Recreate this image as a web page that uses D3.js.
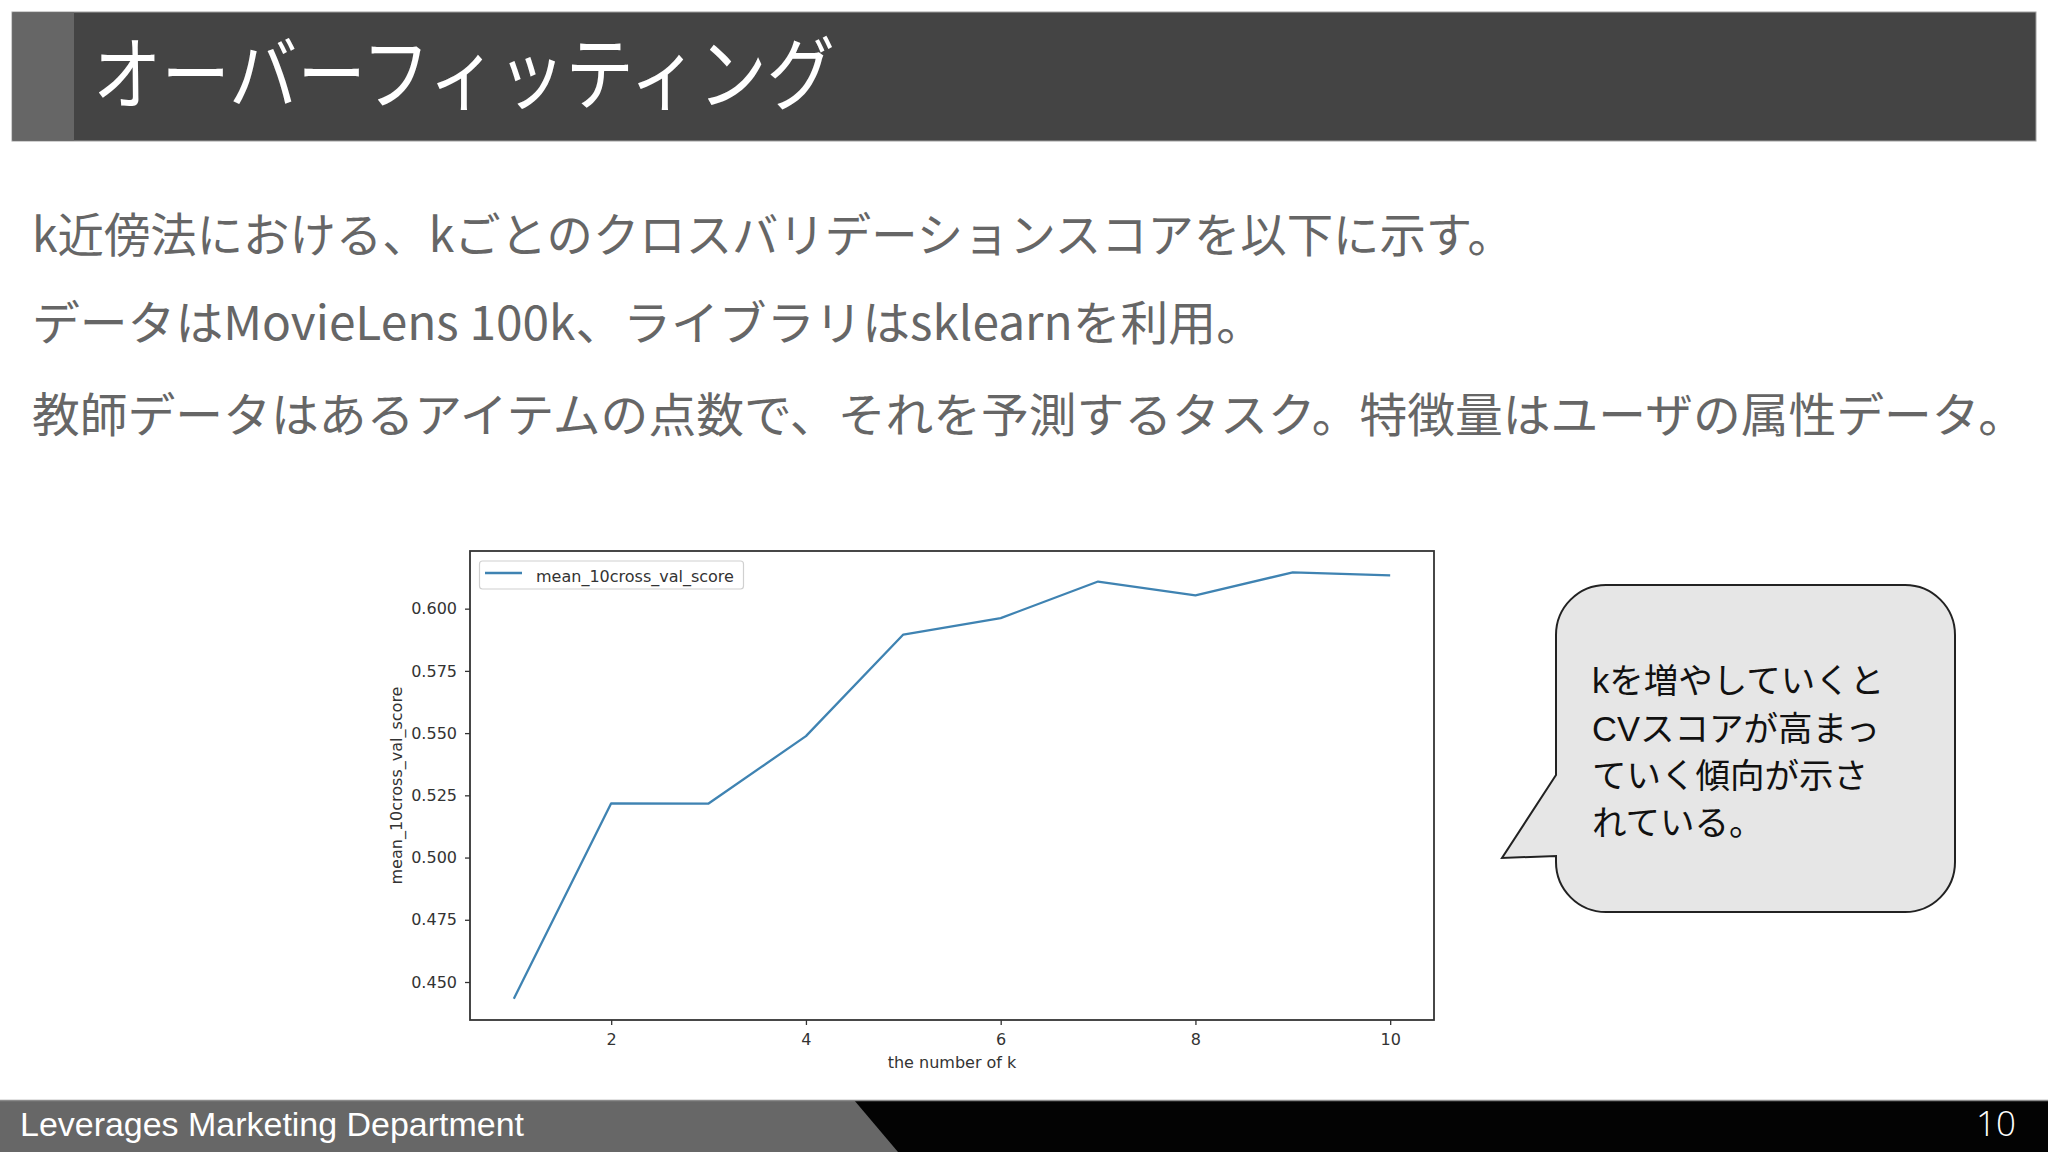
<!DOCTYPE html>
<html>
<head>
<meta charset="utf-8">
<script src="https://cdn.jsdelivr.net/npm/d3@7"></script>
<style>
  html, body { margin: 0; padding: 0; background: #ffffff; }
  svg { display: block; }
</style>
</head>
<body>
<svg id="slide" width="2048" height="1152"></svg>
<script>
// ---- data ----
const kValues = [1, 2, 3, 4, 5, 6, 7, 8, 9, 10];
const cvScores = [0.4433, 0.5218, 0.5217, 0.5488, 0.5896, 0.5962, 0.6109, 0.6053, 0.6146, 0.6134];
const xTicks = [2, 4, 6, 8, 10];
const yTicks = [0.450, 0.475, 0.500, 0.525, 0.550, 0.575, 0.600];
const seriesName = "mean_10cross_val_score";
const xLabel = "the number of k";
const yLabel = "mean_10cross_val_score";
const title = "オーバーフィッティング";
const bodyLines = [
  "k近傍法における、kごとのクロスバリデーションスコアを以下に示す。",
  "データはMovieLens 100k、ライブラリはsklearnを利用。",
  "教師データはあるアイテムの点数で、それを予測するタスク。特徴量はユーザの属性データ。"
];
const bubbleLines = ["kを増やしていくと", "CVスコアが高まっ", "ていく傾向が示さ", "れている。"];
const footerText = "Leverages Marketing Department";
const pageNumber = "10";

const svg = d3.select("#slide");
svg.append("rect").attr("width", 2048).attr("height", 1152).attr("fill", "#ffffff");

// ---- header ----
svg.append("rect").attr("x", 12).attr("y", 12).attr("width", 2024).attr("height", 129)
  .attr("fill", "#444444").attr("stroke", "#a0a0a0").attr("stroke-width", 1);
svg.append("rect").attr("x", 12.5).attr("y", 12.5).attr("width", 61.5).attr("height", 128)
  .attr("fill", "#666666");
svg.append("text").attr("x", 93).attr("y", 103)
  .attr("font-family", "'Noto Sans CJK JP', sans-serif").attr("font-size", 80)
  .attr("fill", "#ffffff").attr("textLength", 742).attr("lengthAdjust", "spacingAndGlyphs")
  .text(title);

// ---- body text ----
const bodyBase = [252, 340, 432];
const bodyLen = [1482, 1232, 1994];
bodyLines.forEach((t, i) => {
  svg.append("text").attr("x", 32).attr("y", bodyBase[i])
    .attr("font-family", "'Noto Sans CJK JP', sans-serif").attr("font-size", 47)
    .attr("fill", "#666666").attr("textLength", bodyLen[i]).attr("lengthAdjust", "spacingAndGlyphs")
    .text(t);
});

// ---- chart ----
const ax = { left: 470, right: 1434, top: 551, bottom: 1020 };
const dMin = d3.min(cvScores), dMax = d3.max(cvScores);
const yPad = (dMax - dMin) * 0.05;
const xPad = (d3.max(kValues) - d3.min(kValues)) * 0.05;
const x = d3.scaleLinear().domain([d3.min(kValues) - xPad, d3.max(kValues) + xPad]).range([ax.left, ax.right]);
const y = d3.scaleLinear().domain([dMin - yPad, dMax + yPad]).range([ax.bottom, ax.top]);

const chart = svg.append("g");
chart.append("rect").attr("x", ax.left).attr("y", ax.top)
  .attr("width", ax.right - ax.left).attr("height", ax.bottom - ax.top)
  .attr("fill", "#ffffff");

const lineColor = "#3f83b2";
chart.append("path")
  .datum(kValues.map((k, i) => [k, cvScores[i]]))
  .attr("fill", "none").attr("stroke", lineColor).attr("stroke-width", 2.3)
  .attr("stroke-linejoin", "round")
  .attr("d", d3.line().x(d => x(d[0])).y(d => y(d[1])));

const xAxis = chart.append("g").attr("transform", `translate(0,${ax.bottom})`)
  .call(d3.axisBottom(x).tickValues(xTicks).tickSize(5).tickPadding(8.5).tickFormat(d3.format("d")));
const yAxis = chart.append("g").attr("transform", `translate(${ax.left},0)`)
  .call(d3.axisLeft(y).tickValues(yTicks).tickSize(5).tickPadding(8).tickFormat(d3.format(".3f")));
[xAxis, yAxis].forEach(g => {
  g.select(".domain").remove();
  g.selectAll(".tick line").attr("stroke", "#333333").attr("stroke-width", 1.3);
  g.selectAll(".tick text").attr("fill", "#333333")
    .attr("font-family", "'DejaVu Sans', sans-serif").attr("font-size", 16);
});

chart.append("rect").attr("x", ax.left).attr("y", ax.top)
  .attr("width", ax.right - ax.left).attr("height", ax.bottom - ax.top)
  .attr("fill", "none").attr("stroke", "#333333").attr("stroke-width", 1.8);

chart.append("text").attr("x", (ax.left + ax.right) / 2).attr("y", 1068)
  .attr("text-anchor", "middle").attr("fill", "#333333")
  .attr("font-family", "'DejaVu Sans', sans-serif").attr("font-size", 16).text(xLabel);
chart.append("text")
  .attr("transform", `translate(402,${(ax.top + ax.bottom) / 2}) rotate(-90)`)
  .attr("text-anchor", "middle").attr("fill", "#333333")
  .attr("font-family", "'DejaVu Sans', sans-serif").attr("font-size", 16).text(yLabel);

// legend
const lg = chart.append("g");
lg.append("rect").attr("x", 479.5).attr("y", 561).attr("width", 264).attr("height", 28).attr("rx", 3)
  .attr("fill", "#ffffff").attr("stroke", "#d0d0d0").attr("stroke-width", 1.2);
lg.append("line").attr("x1", 485).attr("x2", 522).attr("y1", 573).attr("y2", 573)
  .attr("stroke", lineColor).attr("stroke-width", 2.3);
lg.append("text").attr("x", 536).attr("y", 581.5).attr("fill", "#333333")
  .attr("font-family", "'DejaVu Sans', sans-serif").attr("font-size", 16).text(seriesName);

// ---- speech bubble ----
const b = { x0: 1556, x1: 1955, y0: 585, y1: 912, r: 50 };
const bubblePath = `M${b.x0 + b.r},${b.y0} H${b.x1 - b.r} A${b.r},${b.r} 0 0 1 ${b.x1},${b.y0 + b.r}
  V${b.y1 - b.r} A${b.r},${b.r} 0 0 1 ${b.x1 - b.r},${b.y1} H${b.x0 + b.r}
  A${b.r},${b.r} 0 0 1 ${b.x0},${b.y1 - b.r} V856 L1502,858 L${b.x0},775 V${b.y0 + b.r}
  A${b.r},${b.r} 0 0 1 ${b.x0 + b.r},${b.y0} Z`;
svg.append("path").attr("d", bubblePath).attr("fill", "#e6e6e6")
  .attr("stroke", "#222222").attr("stroke-width", 2).attr("stroke-linejoin", "miter");
const bubbleBase = [693, 741, 788, 835];
bubbleLines.forEach((t, i) => {
  svg.append("text").attr("x", 1592).attr("y", bubbleBase[i])
    .attr("font-family", "'Liberation Sans', 'Noto Sans CJK JP', sans-serif").attr("font-size", 34.5)
    .attr("fill", "#111111").text(t);
});

// ---- footer ----
svg.append("rect").attr("x", 0).attr("y", 1100).attr("width", 2048).attr("height", 52).attr("fill", "#030303");
svg.append("polygon").attr("points", "0,1100 854,1100 898,1152 0,1152").attr("fill", "#676767");
svg.append("line").attr("x1", 0).attr("x2", 2048).attr("y1", 1100.5).attr("y2", 1100.5)
  .attr("stroke", "#8a8a8a").attr("stroke-width", 1.5);
svg.append("text").attr("x", 20).attr("y", 1136)
  .attr("font-family", "'Liberation Sans', Arial, sans-serif").attr("font-size", 34)
  .attr("fill", "#ffffff").attr("textLength", 504).attr("lengthAdjust", "spacingAndGlyphs")
  .text(footerText);
svg.append("text").attr("x", 2016).attr("y", 1136).attr("text-anchor", "end")
  .attr("font-family", "'Open Sans', sans-serif").attr("font-weight", 300).attr("font-size", 35)
  .attr("fill", "#ffffff").text(pageNumber);
</script>
</body>
</html>
